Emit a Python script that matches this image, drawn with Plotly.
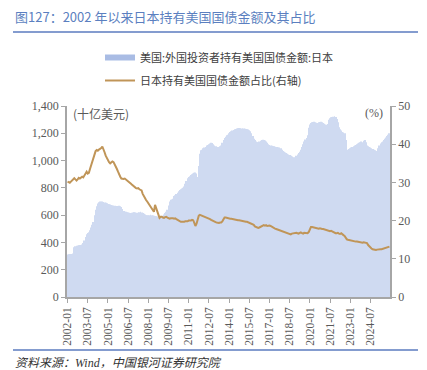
import plotly.graph_objects as go

# ---- data ----
years = list(range(2002, 2026))
months = [f"{y}-{m:02d}" for y in years for m in range(1, 13)]

holdings = [
    # 2002
    312, 313, 315, 315, 316, 318, 365, 372, 375, 378, 380, 381,
    # 2003
    382, 385, 395, 415, 440, 460, 470, 475, 490, 510, 530, 550,
    # 2004
    600, 640, 665, 685, 695, 700, 698, 700, 697, 692, 690, 688,
    # 2005
    682, 680, 678, 675, 672, 670, 668, 667, 666, 667, 668, 665,
    # 2006
    660, 645, 630, 625, 625, 622, 620, 618, 616, 618, 620, 622,
    # 2007
    620, 618, 615, 618, 622, 625, 620, 615, 610, 605, 600, 600,
    # 2008
    598, 600, 602, 600, 598, 596, 594, 592, 590, 588, 585, 588,
    # 2009
    590, 595, 605, 615, 625, 640, 670, 700, 712, 715, 720, 740,
    # 2010
    745, 755, 765, 775, 785, 790, 795, 800, 810, 830, 850, 870,
    # 2011
    880, 885, 895, 900, 905, 910, 912, 905, 880, 960, 1050, 1075,
    # 2012
    1080, 1090, 1095, 1100, 1110, 1115, 1120, 1125, 1130, 1128, 1120, 1110,
    # 2013
    1105, 1100, 1098, 1100, 1105, 1110, 1130, 1150, 1165, 1175, 1185, 1190,
    # 2014
    1200, 1210, 1215, 1220, 1225, 1230, 1232, 1235, 1236, 1238, 1237, 1235,
    # 2015
    1236, 1235, 1234, 1232, 1230, 1228, 1222, 1215, 1200, 1180, 1160, 1150,
    # 2016
    1140, 1135, 1135, 1140, 1145, 1150, 1152, 1150, 1148, 1140, 1130, 1120,
    # 2017
    1115, 1110, 1108, 1105, 1105, 1102, 1100, 1100, 1098, 1095, 1090, 1080,
    # 2018
    1070, 1065, 1060, 1055, 1050, 1045, 1040, 1035, 1030, 1025, 1020, 1025,
    # 2019
    1035, 1045, 1055, 1065, 1080, 1100, 1120, 1140, 1155, 1165, 1185, 1240,
    # 2020
    1265, 1275, 1280, 1282, 1285, 1280, 1278, 1275, 1280, 1283, 1285, 1280,
    # 2021
    1275, 1270, 1265, 1262, 1268, 1300, 1310, 1318, 1320, 1322, 1325, 1320,
    # 2022
    1305, 1280, 1245, 1230, 1220, 1210, 1205, 1200, 1150, 1080, 1077, 1085,
    # 2023
    1090, 1095, 1100, 1105, 1110, 1115, 1120, 1125, 1130, 1135, 1140, 1135,
    # 2024
    1145, 1150, 1135, 1110, 1105, 1100, 1095, 1090, 1085, 1080, 1075, 1070,
    # 2025
    1070, 1090, 1110, 1125, 1135, 1140, 1150, 1160, 1170, 1180, 1190, 1200,
]

share = [
    # 2002
    30.2, 30.0, 29.9, 30.2, 30.5, 31.0, 31.1, 30.8, 30.5, 30.8, 31.2, 31.0,
    # 2003
    31.2, 31.5, 31.3, 31.9, 32.4, 32.8, 32.3, 32.5, 33.5, 34.5, 35.5, 36.3,
    # 2004
    37.0, 38.2, 38.5, 38.3, 38.6, 38.7, 39.0, 39.4, 38.8, 37.9, 37.0, 36.3,
    # 2005
    35.8, 35.3, 35.0, 35.2, 35.5, 35.3, 34.8, 34.2, 33.5, 32.8, 32.0, 31.5,
    # 2006
    31.0, 30.9, 30.9, 31.0, 30.8, 30.6, 30.3, 30.0, 29.8, 29.5, 29.2, 28.9,
    # 2007
    28.7, 28.5, 28.4, 28.5, 28.2, 28.0, 27.9, 27.0, 26.3, 25.8, 25.4, 25.0,
    # 2008
    24.6, 24.1, 23.7, 23.3, 22.9, 22.3, 24.1, 23.2, 22.0, 21.0, 20.7, 21.0,
    # 2009
    21.0, 20.8, 20.7, 20.9, 21.0, 20.8, 20.6, 20.5, 20.6, 20.7, 20.6, 20.5,
    # 2010
    20.6, 20.4, 20.2, 20.0, 19.8, 19.7, 19.7, 19.6, 19.7, 19.8, 19.7, 19.8,
    # 2011
    20.0, 19.9, 20.0, 20.2, 20.1, 19.4, 18.6, 19.2, 20.6, 21.3, 21.5, 21.4,
    # 2012
    21.3, 21.1, 21.0, 20.9, 20.8, 20.6, 20.5, 20.4, 20.2, 20.0, 19.8, 19.7,
    # 2013
    19.6, 19.5, 19.4, 19.4, 19.5, 19.5, 19.8, 20.4, 20.8, 20.8, 20.7, 20.6,
    # 2014
    20.6, 20.5, 20.5, 20.4, 20.4, 20.3, 20.3, 20.2, 20.1, 20.1, 20.0, 20.0,
    # 2015
    19.9, 19.8, 19.8, 19.7, 19.7, 19.6, 19.4, 19.3, 19.3, 19.2, 18.9, 18.5,
    # 2016
    18.3, 18.2, 18.1, 18.2, 18.4, 18.6, 18.7, 18.8, 18.7, 18.8, 18.6, 18.7,
    # 2017
    18.7, 18.6, 18.4, 18.1, 18.0, 17.9, 17.8, 17.7, 17.6, 17.5, 17.4, 17.3,
    # 2018
    17.1, 16.9, 16.8, 16.7, 16.6, 16.5, 16.5, 16.4, 16.6, 16.7, 16.6, 16.8,
    # 2019
    16.8, 16.7, 16.6, 16.8, 16.9, 16.7, 16.6, 16.8, 16.7, 16.6, 16.7, 17.0,
    # 2020
    17.6, 18.3, 18.3, 18.2, 18.1, 18.0, 18.0, 17.9, 17.9, 18.0, 17.8, 17.8,
    # 2021
    17.8, 17.7, 17.8, 17.7, 17.6, 17.3, 17.2, 17.3, 17.1, 17.0, 16.8, 16.7,
    # 2022
    16.7, 16.8, 16.6, 16.5, 16.7, 16.3, 16.2, 16.0, 15.5, 15.1, 15.0, 14.9,
    # 2023
    14.8, 14.7, 14.7, 14.6, 14.6, 14.5, 14.5, 14.4, 14.4, 14.3, 14.3, 14.2,
    # 2024
    14.3, 14.2, 14.3, 14.1, 13.6, 13.2, 12.9, 12.7, 12.5, 12.4, 12.3, 12.3,
    # 2025
    12.4, 12.5, 12.4, 12.5, 12.5, 12.6, 12.7, 12.8, 12.9, 13.0, 13.1, 13.2,
]

tick_labels = months[::18]
left_ticks = [0, 200, 400, 600, 800, 1000, 1200, 1400]
right_ticks = [0, 10, 20, 30, 40, 50]

bar_name = "美国:外国投资者持有美国国债金额:日本"
line_name = "日本持有美国国债金额占比(右轴)"

BAR_COLOR = "#CFDAF1"
LEG_BAR = "#A9BCE4"
LINE_COLOR = "#C09558"
AXIS_COLOR = "#A6A6A6"
TICK_FONT = dict(family="Liberation Serif, Noto Sans CJK SC", size=12, color="#595959")
CJK = "Noto Sans CJK SC, Liberation Sans"

fig = go.Figure()
fig.add_trace(go.Bar(x=months, y=holdings, marker=dict(color=BAR_COLOR, line=dict(width=0)),
                     showlegend=False, name=bar_name))
fig.add_trace(go.Scatter(x=months, y=share, yaxis="y2", mode="lines",
                         line=dict(color=LINE_COLOR, width=2), showlegend=False, name=line_name))
# legend entries
fig.add_trace(go.Scatter(x=[None], y=[None], mode="lines", line=dict(color=LEG_BAR, width=6),
                         name=bar_name, legendgroup="a"))
fig.add_trace(go.Scatter(x=[None], y=[None], mode="lines", line=dict(color=LINE_COLOR, width=2),
                         name=line_name, legendgroup="b", yaxis="y2"))

def px_x(x):
    return (x - 67) / 323.0

def px_y(y):
    return (297 - y) / 191.0

fig.update_layout(
    width=427, height=370,
    margin=dict(l=67, r=37, t=106, b=73, autoexpand=False),
    paper_bgcolor="white", plot_bgcolor="white",
    bargap=0.2,
    xaxis=dict(type="category", tickvals=tick_labels, ticktext=tick_labels, automargin=False,
               tickangle=-90, tickfont=dict(family="Liberation Serif", size=11.5, color="#595959"),
               showline=True, linecolor=AXIS_COLOR, linewidth=1.5,
               ticks="outside", ticklen=4, tickcolor=AXIS_COLOR, showgrid=False, zeroline=False),
    yaxis=dict(range=[0, 1400], tickvals=left_ticks, tickformat=",", tickfont=TICK_FONT, automargin=False,
               showline=True, linecolor=AXIS_COLOR, linewidth=1.5, ticks="outside", ticklen=4,
               tickcolor=AXIS_COLOR, showgrid=False, zeroline=False),
    yaxis2=dict(range=[0, 50], tickvals=right_ticks, overlaying="y", side="right", tickfont=TICK_FONT,
                automargin=False,
                showline=True, linecolor=AXIS_COLOR, linewidth=1.5, ticks="outside", ticklen=4,
                tickcolor=AXIS_COLOR, showgrid=False, zeroline=False),
    legend=dict(x=px_x(100), y=px_y(43), xanchor="left", yanchor="top", orientation="v",
                font=dict(family=CJK, size=11, color="#404040"), bgcolor="rgba(0,0,0,0)",
                traceorder="grouped", tracegroupgap=4),
    annotations=[
        dict(text="图127：2002 年以来日本持有美国国债金额及其占比", xref="paper", yref="paper",
             x=px_x(13), y=px_y(16), xanchor="left", yanchor="middle", showarrow=False,
             font=dict(family=CJK, size=13, color="#5B7FC0")),
        dict(text="(十亿美元)", xref="paper", yref="paper", x=px_x(71), y=px_y(113),
             xanchor="left", yanchor="middle", showarrow=False,
             font=dict(family=CJK, size=12, color="#595959")),
        dict(text="(%)", xref="paper", yref="paper", x=px_x(385), y=px_y(113),
             xanchor="right", yanchor="middle", showarrow=False,
             font=dict(family="Liberation Serif", size=12, color="#595959")),
        dict(text="<i>资料来源：Wind，中国银河证券研究院</i>", xref="paper", yref="paper",
             x=px_x(13), y=px_y(363), xanchor="left", yanchor="middle", showarrow=False,
             font=dict(family="Liberation Serif, Noto Sans CJK SC", size=12, color="#333333")),
    ],
    shapes=[
        dict(type="line", xref="paper", yref="paper", x0=px_x(13), x1=px_x(418),
             y0=px_y(32), y1=px_y(32), line=dict(color="#5B7BBF", width=1.5)),
        dict(type="line", xref="paper", yref="paper", x0=px_x(13), x1=px_x(418),
             y0=px_y(350), y1=px_y(350), line=dict(color="#5B7BBF", width=1.5)),
    ],
)

fig.write_html("out.html", config={"displayModeBar": False},
               post_script="document.body.style.margin='0px';")
